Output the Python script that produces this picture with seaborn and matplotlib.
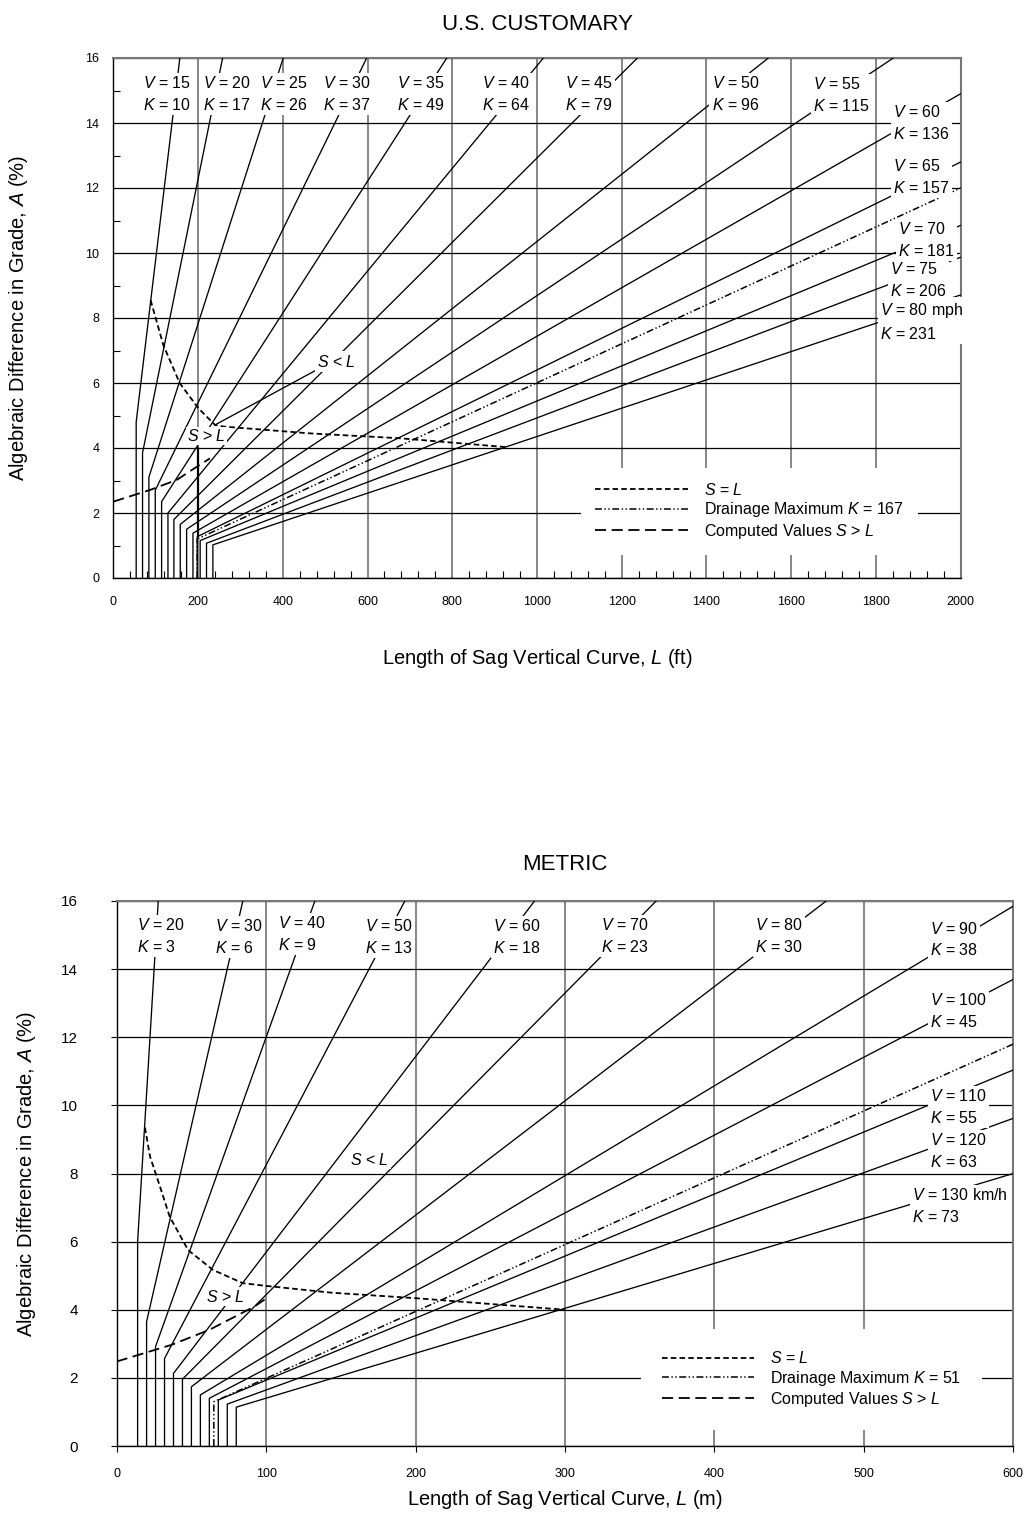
import matplotlib
matplotlib.use('Agg')
import matplotlib.pyplot as plt
import numpy as np
import pandas as pd
import seaborn as sns
from matplotlib.lines import Line2D
from matplotlib.ticker import MultipleLocator

# ---- U.S. customary curves (L in ft, A in %) ----
us_speed = [15, 20, 25, 30, 35, 40, 45, 50, 55, 60, 65, 70, 75, 80]
us_k = [10, 17, 26, 37, 49, 64, 79, 96, 115, 136, 157, 181, 206, 231]
us_l_min = [54, 69, 84, 99, 114, 129, 143, 158, 173, 188, 198, 205, 220, 235]
us_a_corner = [4.8, 3.85, 3.1, 2.7, 2.35, 2.0, 1.8, 1.65, 1.5, 1.38, 1.27, 1.15, 1.07, 1.02]
us_l_end = [157, 258, 401, 598, 787, 1015, 1237, 1546, 1841, 2000, 2000, 2000, 2000, 2000]
us_a_end = [16, 16, 16, 16, 16, 16, 16, 16, 16, 14.9, 12.8, 10.85, 9.87, 8.71]
us_drain_l = [198, 198, 2000]
us_drain_a = [0, 1.2, 12.0]
us_sl_l = [88, 118, 157, 201, 240, 260, 464, 676, 925]
us_sl_a = [8.55, 7.17, 5.99, 5.22, 4.71, 4.66, 4.45, 4.30, 4.03]
us_sg_l = [0, 87, 150, 185, 228]
us_sg_a = [2.35, 2.71, 3.02, 3.32, 3.68]
us_bound_l = [200, 200]
us_bound_a = [1.3, 4.0]
us_drain_k = 167

# ---- Metric curves (L in m, A in %) ----
m_speed = [20, 30, 40, 50, 60, 70, 80, 90, 100, 110, 120, 130]
m_k = [3, 6, 9, 13, 18, 23, 30, 38, 45, 55, 63, 73]
m_l_min = [14, 20, 26, 32, 38, 44, 50, 56, 62, 68, 74, 80]
m_a_corner = [6.0, 3.65, 2.92, 2.57, 2.13, 1.96, 1.74, 1.5, 1.4, 1.35, 1.23, 1.14]
m_l_end = [27.8, 84.4, 132.6, 192.8, 279.6, 361, 474.8, 600, 600, 600, 600, 600]
m_a_end = [16, 16, 16, 16, 16, 16, 16, 15.85, 13.7, 11.04, 9.62, 8.0]
m_drain_l = [65, 65, 600]
m_drain_a = [0, 1.3, 11.8]
m_sl_l = [18.9, 22.3, 29, 35.5, 47.8, 64.4, 84.4, 100, 144, 200, 300]
m_sl_a = [9.35, 8.5, 7.61, 6.73, 5.75, 5.17, 4.78, 4.70, 4.50, 4.34, 4.0]
m_sg_l = [0, 36.7, 62, 92, 99]
m_sg_a = [2.48, 2.97, 3.41, 4.09, 4.3]
m_drain_k = 51

sns.set_style('white')
plt.rcParams['font.family'] = ['Liberation Sans', 'DejaVu Sans']
plt.rcParams['mathtext.fontset'] = 'custom'
plt.rcParams['mathtext.rm'] = 'Liberation Sans'
plt.rcParams['mathtext.it'] = 'Liberation Sans:italic'
plt.rcParams['lines.scale_dashes'] = False
for key in ['text.color', 'axes.labelcolor', 'xtick.color', 'ytick.color']:
    plt.rcParams[key] = 'black'

SL_STYLE = (0, (4, 2.3))
DRAIN_STYLE = (0, (5, 1.8, 1, 1.8, 1, 1.8))
SG_STYLE = (0, (8, 4))


def it(s):
    return r'$\mathit{' + s + '}$'


def draw_chart(ax, speeds, ks, l_min, a_corner, l_end, a_end,
               drain_l, drain_a, sl_l, sl_a, sg_l, sg_a):
    rows = []
    for i, v in enumerate(speeds):
        rows.append((v, l_min[i], 0.0))
        rows.append((v, l_min[i], a_corner[i]))
        rows.append((v, l_end[i], a_end[i]))
    df = pd.DataFrame(rows, columns=['speed', 'L', 'A'])
    sns.lineplot(data=df, x='L', y='A', units='speed', estimator=None, sort=False,
                 color='black', lw=0.95, ax=ax, legend=False, zorder=3)
    sns.lineplot(x=drain_l, y=drain_a, estimator=None, sort=False, color='black',
                 lw=1.1, linestyle=DRAIN_STYLE, ax=ax, zorder=3)
    sns.lineplot(x=sl_l, y=sl_a, estimator=None, sort=False, color='black',
                 lw=1.3, linestyle=SL_STYLE, ax=ax, zorder=3)
    sns.lineplot(x=sg_l, y=sg_a, estimator=None, sort=False, color='black',
                 lw=1.3, linestyle=SG_STYLE, ax=ax, zorder=3)


def speed_labels(ax, speeds, ks, pos, unit):
    for i, (v, k) in enumerate(zip(speeds, ks)):
        vt = f'{v}' + (f' {unit}' if i == len(speeds) - 1 else '')
        ax.text(pos[i][0], pos[i][1], f'{it("V")} = {vt}\n{it("K")} = {k}',
                ha='left', va='center', multialignment='left', fontsize=11.5,
                linespacing=1.45, zorder=6,
                bbox=dict(facecolor='white', edgecolor='none', pad=1.5))


def style_axes(ax):
    ax.set_axisbelow(True)
    ax.xaxis.grid(True, color='#666666', lw=1.1)
    ax.yaxis.grid(True, color='black', lw=0.9)
    for side in ['left', 'bottom']:
        ax.spines[side].set_color('black')
        ax.spines[side].set_linewidth(1.0)
    for side in ['top', 'right']:
        ax.spines[side].set_color('#777777')
        ax.spines[side].set_linewidth(1.5)


def add_legend(ax, drain_k, center, pad):
    handles = [Line2D([], [], color='black', lw=1.3, linestyle=SL_STYLE),
               Line2D([], [], color='black', lw=1.1, linestyle=DRAIN_STYLE),
               Line2D([], [], color='black', lw=1.3, linestyle=SG_STYLE)]
    labels = [f'{it("S")} = {it("L")}',
              f'Drainage Maximum {it("K")} = {drain_k}',
              f'Computed Values {it("S")} > {it("L")}']
    leg = ax.legend(handles, labels, loc='center', bbox_to_anchor=center,
                    bbox_transform=ax.transData, frameon=True, facecolor='white',
                    edgecolor='none', framealpha=1, fancybox=False, borderpad=pad,
                    handlelength=5.8, handletextpad=1.0, labelspacing=0.15,
                    fontsize=11.5, borderaxespad=0)
    leg.set_zorder(7)


fig = plt.figure(figsize=(10.25, 15.33), dpi=100)

# ---------------- U.S. customary ----------------
ax1 = fig.add_axes([113.3 / 1025, (1533 - 578) / 1533, 847.4 / 1025, 520 / 1533])
draw_chart(ax1, us_speed, us_k, us_l_min, us_a_corner, us_l_end, us_a_end,
           us_drain_l, us_drain_a, us_sl_l, us_sl_a, us_sg_l, us_sg_a)
sns.lineplot(x=us_bound_l, y=us_bound_a, estimator=None, sort=False, color='black',
             lw=1.6, ax=ax1, zorder=3)
ax1.set_xlim(0, 2000)
ax1.set_ylim(0, 16)
ax1.set_xticks(np.arange(0, 2001, 200))
ax1.set_yticks(np.arange(0, 17, 2))
ax1.xaxis.set_minor_locator(MultipleLocator(40))
ax1.yaxis.set_minor_locator(MultipleLocator(1))
ax1.tick_params(which='both', bottom=True, left=True)
ax1.tick_params(which='major', length=0, labelsize=9)
ax1.tick_params(axis='x', which='major', pad=13)
ax1.tick_params(axis='y', which='major', pad=10)
ax1.tick_params(which='minor', direction='in', length=5, width=0.8, color='black')
style_axes(ax1)

us_label_pos = [(70.6, 14.89), (211.7, 14.89), (346, 14.89), (494.6, 14.89),
                (669, 14.89), (869.5, 14.89), (1066, 14.89), (1412, 14.89),
                (1651, 14.87), (1840, 14.0), (1840, 12.34), (1852, 10.41),
                (1833, 9.18), (1810, 7.9)]
speed_labels(ax1, us_speed, us_k, us_label_pos, 'mph')
ax1.annotate(f'{it("S")} < {it("L")}', xy=(us_sl_l[4], us_sl_a[4]), xytext=(527, 6.66),
             ha='center', va='center', fontsize=11.5, zorder=6,
             bbox=dict(facecolor='white', edgecolor='none', pad=1.5),
             arrowprops=dict(arrowstyle='-', color='black', lw=0.95,
                             shrinkA=0, shrinkB=0, relpos=(0.0, 0.0)))
ax1.text(220, 4.37, f'{it("S")} > {it("L")}', ha='center', va='center',
         fontsize=11.5, zorder=6, bbox=dict(facecolor='white', edgecolor='none', pad=1.0))
add_legend(ax1, us_drain_k, (1501, 2.05), 0.9)

ax1.set_title('U.S. CUSTOMARY', fontsize=16, pad=20)
ax1.set_xlabel(f'Length of Sag Vertical Curve, {it("L")} (ft)', fontsize=14.5)
ax1.set_ylabel(f'Algebraic Difference in Grade, {it("A")} (%)', fontsize=14.5)
ax1.xaxis.set_label_coords(0.5, -0.132)
ax1.yaxis.set_label_coords(-0.098, 0.5)

# ---------------- Metric ----------------
ax2 = fig.add_axes([116.7 / 1025, (1533 - 1446) / 1533, 896.6 / 1025, 545 / 1533])
draw_chart(ax2, m_speed, m_k, m_l_min, m_a_corner, m_l_end, m_a_end,
           m_drain_l, m_drain_a, m_sl_l, m_sl_a, m_sg_l, m_sg_a)
ax2.set_xlim(0, 600)
ax2.set_ylim(0, 16)
ax2.set_xticks(np.arange(0, 601, 100))
ax2.set_yticks(np.arange(0, 17, 2))
ax2.tick_params(which='major', bottom=True, left=True, direction='out',
                length=4, width=0.8, color='black')
ax2.tick_params(axis='x', labelsize=9, pad=12)
ax2.tick_params(axis='y', labelsize=11, pad=24)
style_axes(ax2)

m_label_pos = [(13.4, 14.98), (65.8, 14.95), (108, 15.04), (166, 14.95),
               (252, 14.95), (324.4, 14.97), (427, 14.97), (544, 14.87),
               (544, 12.77), (544, 9.94), (544, 8.66), (532, 7.05)]
speed_labels(ax2, m_speed, m_k, m_label_pos, 'km/h')
ax2.text(169.4, 8.4, f'{it("S")} < {it("L")}', ha='center', va='center',
         fontsize=11.5, zorder=6, bbox=dict(facecolor='white', edgecolor='none', pad=1.0))
ax2.text(72.4, 4.38, f'{it("S")} > {it("L")}', ha='center', va='center',
         fontsize=11.5, zorder=6, bbox=dict(facecolor='white', edgecolor='none', pad=1.0))
add_legend(ax2, m_drain_k, (465, 1.95), 1.3)

ax2.set_title('METRIC', fontsize=16, pad=22)
ax2.set_xlabel(f'Length of Sag Vertical Curve, {it("L")} (m)', fontsize=14.5)
ax2.set_ylabel(f'Algebraic Difference in Grade, {it("A")} (%)', fontsize=14.5)
ax2.xaxis.set_label_coords(0.5, -0.077)
ax2.yaxis.set_label_coords(-0.088, 0.5)

fig.savefig('out.png', dpi=100)
